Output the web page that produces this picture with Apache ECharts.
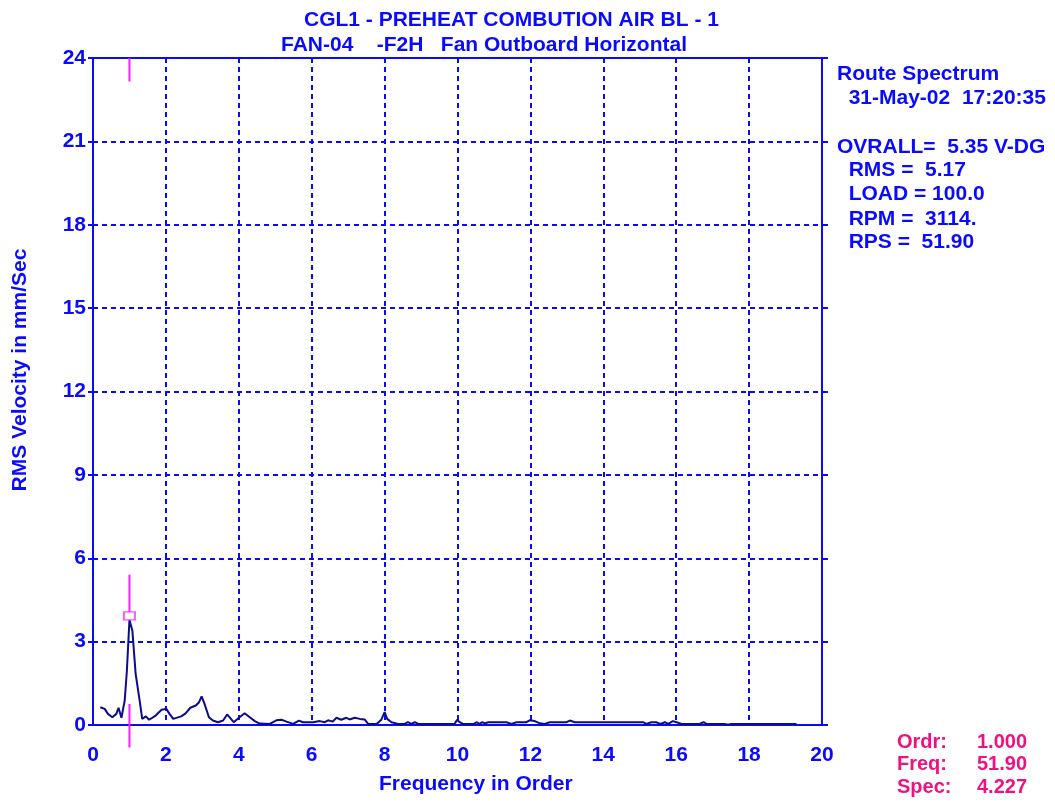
<!DOCTYPE html>
<html>
<head>
<meta charset="utf-8">
<script src="https://cdn.jsdelivr.net/npm/echarts@6/dist/echarts.min.js"></script>
<style>
  html, body { margin: 0; padding: 0; background: #ffffff; }
  #chart { width: 1055px; height: 802px; }
</style>
</head>
<body>
<div id="chart"></div>
<script>
// Spectrum: frequency in orders of running speed vs RMS velocity (mm/s)
const orders = [
  0.20, 0.32, 0.41, 0.53, 0.64, 0.70, 0.78, 0.87, 0.93, 1.00,
  1.08, 1.17, 1.28, 1.35, 1.45, 1.54, 1.72, 1.88, 2.01, 2.10,
  2.20, 2.42, 2.54, 2.67, 2.82, 2.91, 2.98, 3.06, 3.18, 3.29,
  3.43, 3.57, 3.68, 3.86, 4.02, 4.16, 4.30, 4.44, 4.57, 4.85,
  5.03, 5.17, 5.31, 5.49, 5.65, 5.76, 6.04, 6.22, 6.36, 6.45,
  6.57, 6.68, 6.81, 6.95, 7.04, 7.18, 7.32, 7.45, 7.55, 7.78,
  7.91, 8.00, 8.07, 8.19, 8.37, 8.55, 8.64, 8.73, 8.83, 8.92,
  9.92, 9.99, 10.06, 10.15, 10.45, 10.52, 10.60, 10.68, 10.76, 10.84,
  11.34, 11.48, 11.62, 11.89, 11.98, 12.12, 12.26, 12.39, 12.53, 12.99,
  13.08, 13.22, 15.09, 15.18, 15.32, 15.45, 15.57, 15.69, 15.78, 15.91,
  16.01, 16.15, 16.64, 16.75, 16.83, 17.33, 17.42, 17.51, 19.30
];
const velocity = [
  0.64, 0.58, 0.40, 0.28, 0.40, 0.62, 0.26, 0.88, 1.96, 3.78,
  3.40, 1.84, 0.88, 0.22, 0.31, 0.19, 0.34, 0.55, 0.58, 0.40,
  0.22, 0.31, 0.42, 0.62, 0.70, 0.82, 1.03, 0.76, 0.28, 0.16,
  0.10, 0.16, 0.38, 0.10, 0.28, 0.42, 0.28, 0.14, 0.05, 0.04,
  0.17, 0.19, 0.12, 0.04, 0.16, 0.10, 0.10, 0.14, 0.10, 0.17,
  0.12, 0.26, 0.19, 0.26, 0.20, 0.26, 0.22, 0.20, 0.04, 0.04,
  0.19, 0.46, 0.22, 0.10, 0.04, 0.04, 0.10, 0.04, 0.10, 0.04,
  0.04, 0.19, 0.10, 0.04, 0.04, 0.10, 0.04, 0.10, 0.06, 0.10,
  0.10, 0.04, 0.10, 0.10, 0.17, 0.14, 0.06, 0.04, 0.10, 0.10,
  0.16, 0.10, 0.10, 0.04, 0.10, 0.10, 0.04, 0.10, 0.04, 0.14,
  0.10, 0.04, 0.04, 0.10, 0.04, 0.04, 0.01, 0.04, 0.04
];

// Cursor at 1x running speed
const cursorOrder = 1.0;
const cursorPeak = 3.93;
const cursorSegments = [[24.0, 23.15], [5.41, 4.06], [0.76, -0.81]];

const titleLines = ['CGL1 - PREHEAT COMBUTION AIR BL - 1', 'FAN-04    -F2H   Fan Outboard Horizontal'];
const infoLines = [
  'Route Spectrum', '  31-May-02  17:20:35', '',
  'OVRALL=  5.35 V-DG', '  RMS =  5.17', '  LOAD = 100.0', '  RPM =  3114.', '  RPS =  51.90'
];
const cursorLabels = ['Ordr:', 'Freq:', 'Spec:'];
const cursorValues = ['1.000', '51.90', '4.227'];

const BLUE = '#0a0aff';
const NAVY = '#0b0b8c';
const MAGENTA = '#ff1aff';
const PINK = '#f0107f';
const FONT = '"Liberation Sans", Arial, sans-serif';

const chart = echarts.init(document.getElementById('chart'), null, { renderer: 'canvas' });

const lineData = orders.map((o, i) => [o, velocity[i]]);
const cursorData = [];
cursorSegments.forEach((seg, i) => {
  if (i > 0) cursorData.push([cursorOrder, '-']);
  cursorData.push([cursorOrder, seg[0]], [cursorOrder, seg[1]]);
});

function txt(text, x, y, opts) {
  return Object.assign({
    type: 'text', x: x, y: y, silent: true,
    style: {
      text: text, fill: BLUE, font: 'bold 21px ' + FONT,
      textAlign: 'left', textVerticalAlign: 'middle'
    }
  }, opts || {});
}

const graphics = [];
graphics.push(txt(titleLines[0], 304, 20));
graphics.push(txt(titleLines[1], 281, 45));
const infoY = [74, 98, 122, 147, 170, 194, 219, 242];
infoLines.forEach((t, i) => { if (t) graphics.push(txt(t, 837, infoY[i])); });
graphics.push(txt('Frequency in Order', 379, 784));
graphics.push({
  type: 'text', x: 20, y: 370, rotation: Math.PI / 2, silent: true,
  style: {
    text: 'RMS Velocity in mm/Sec', fill: BLUE, font: 'bold 21px ' + FONT,
    textAlign: 'center', textVerticalAlign: 'middle'
  }
});
const cursorY = [742, 764, 787];
cursorLabels.forEach((t, i) => {
  graphics.push({
    type: 'text', x: 897, y: cursorY[i], silent: true,
    style: { text: t, fill: PINK, font: 'bold 20px ' + FONT, textAlign: 'left', textVerticalAlign: 'middle' }
  });
  graphics.push({
    type: 'text', x: 1027, y: cursorY[i], silent: true,
    style: { text: cursorValues[i], fill: PINK, font: 'bold 20px ' + FONT, textAlign: 'right', textVerticalAlign: 'middle' }
  });
});

const axisText = { color: BLUE, fontSize: 21, fontWeight: 'bold', fontFamily: FONT };
const dashed = { color: BLUE, width: 2, type: [5, 4] };

chart.setOption({
  animation: false,
  backgroundColor: '#ffffff',
  grid: {
    left: 93, right: 233, top: 58, bottom: 77,
    show: true, borderColor: BLUE, borderWidth: 2, backgroundColor: 'transparent'
  },
  xAxis: {
    type: 'value', min: 0, max: 20, interval: 2,
    axisLine: { show: true, lineStyle: { color: BLUE, width: 2 } },
    axisTick: { show: false },
    axisLabel: Object.assign({ margin: 20 }, axisText),
    splitLine: { show: true, lineStyle: dashed }
  },
  yAxis: [{
    type: 'value', min: 0, max: 24, interval: 3, position: 'left',
    axisLine: { show: true, lineStyle: { color: BLUE, width: 2 } },
    axisTick: { show: true, length: 5, lineStyle: { color: BLUE, width: 2 } },
    axisLabel: Object.assign({ margin: 7 }, axisText),
    splitLine: { show: true, lineStyle: dashed }
  }, {
    type: 'value', min: 0, max: 24, interval: 3, position: 'right',
    axisLine: { show: true, lineStyle: { color: BLUE, width: 2 } },
    axisTick: { show: true, length: 6, lineStyle: { color: BLUE, width: 2 } },
    axisLabel: { show: false },
    splitLine: { show: false }
  }],
  series: [{
    type: 'line', data: lineData, showSymbol: false, symbol: 'none',
    lineStyle: { color: NAVY, width: 2 }, z: 3
  }, {
    type: 'line', data: cursorData, showSymbol: false, symbol: 'none',
    connectNulls: false, clip: false,
    lineStyle: { color: MAGENTA, width: 2 }, z: 4
  }, {
    type: 'scatter', data: [[cursorOrder, cursorPeak]], symbol: 'rect', symbolSize: [11, 8],
    itemStyle: { color: '#ffffff', borderColor: MAGENTA, borderWidth: 1.5 }, z: 5, clip: false
  }],
  graphic: graphics
});
</script>
</body>
</html>
